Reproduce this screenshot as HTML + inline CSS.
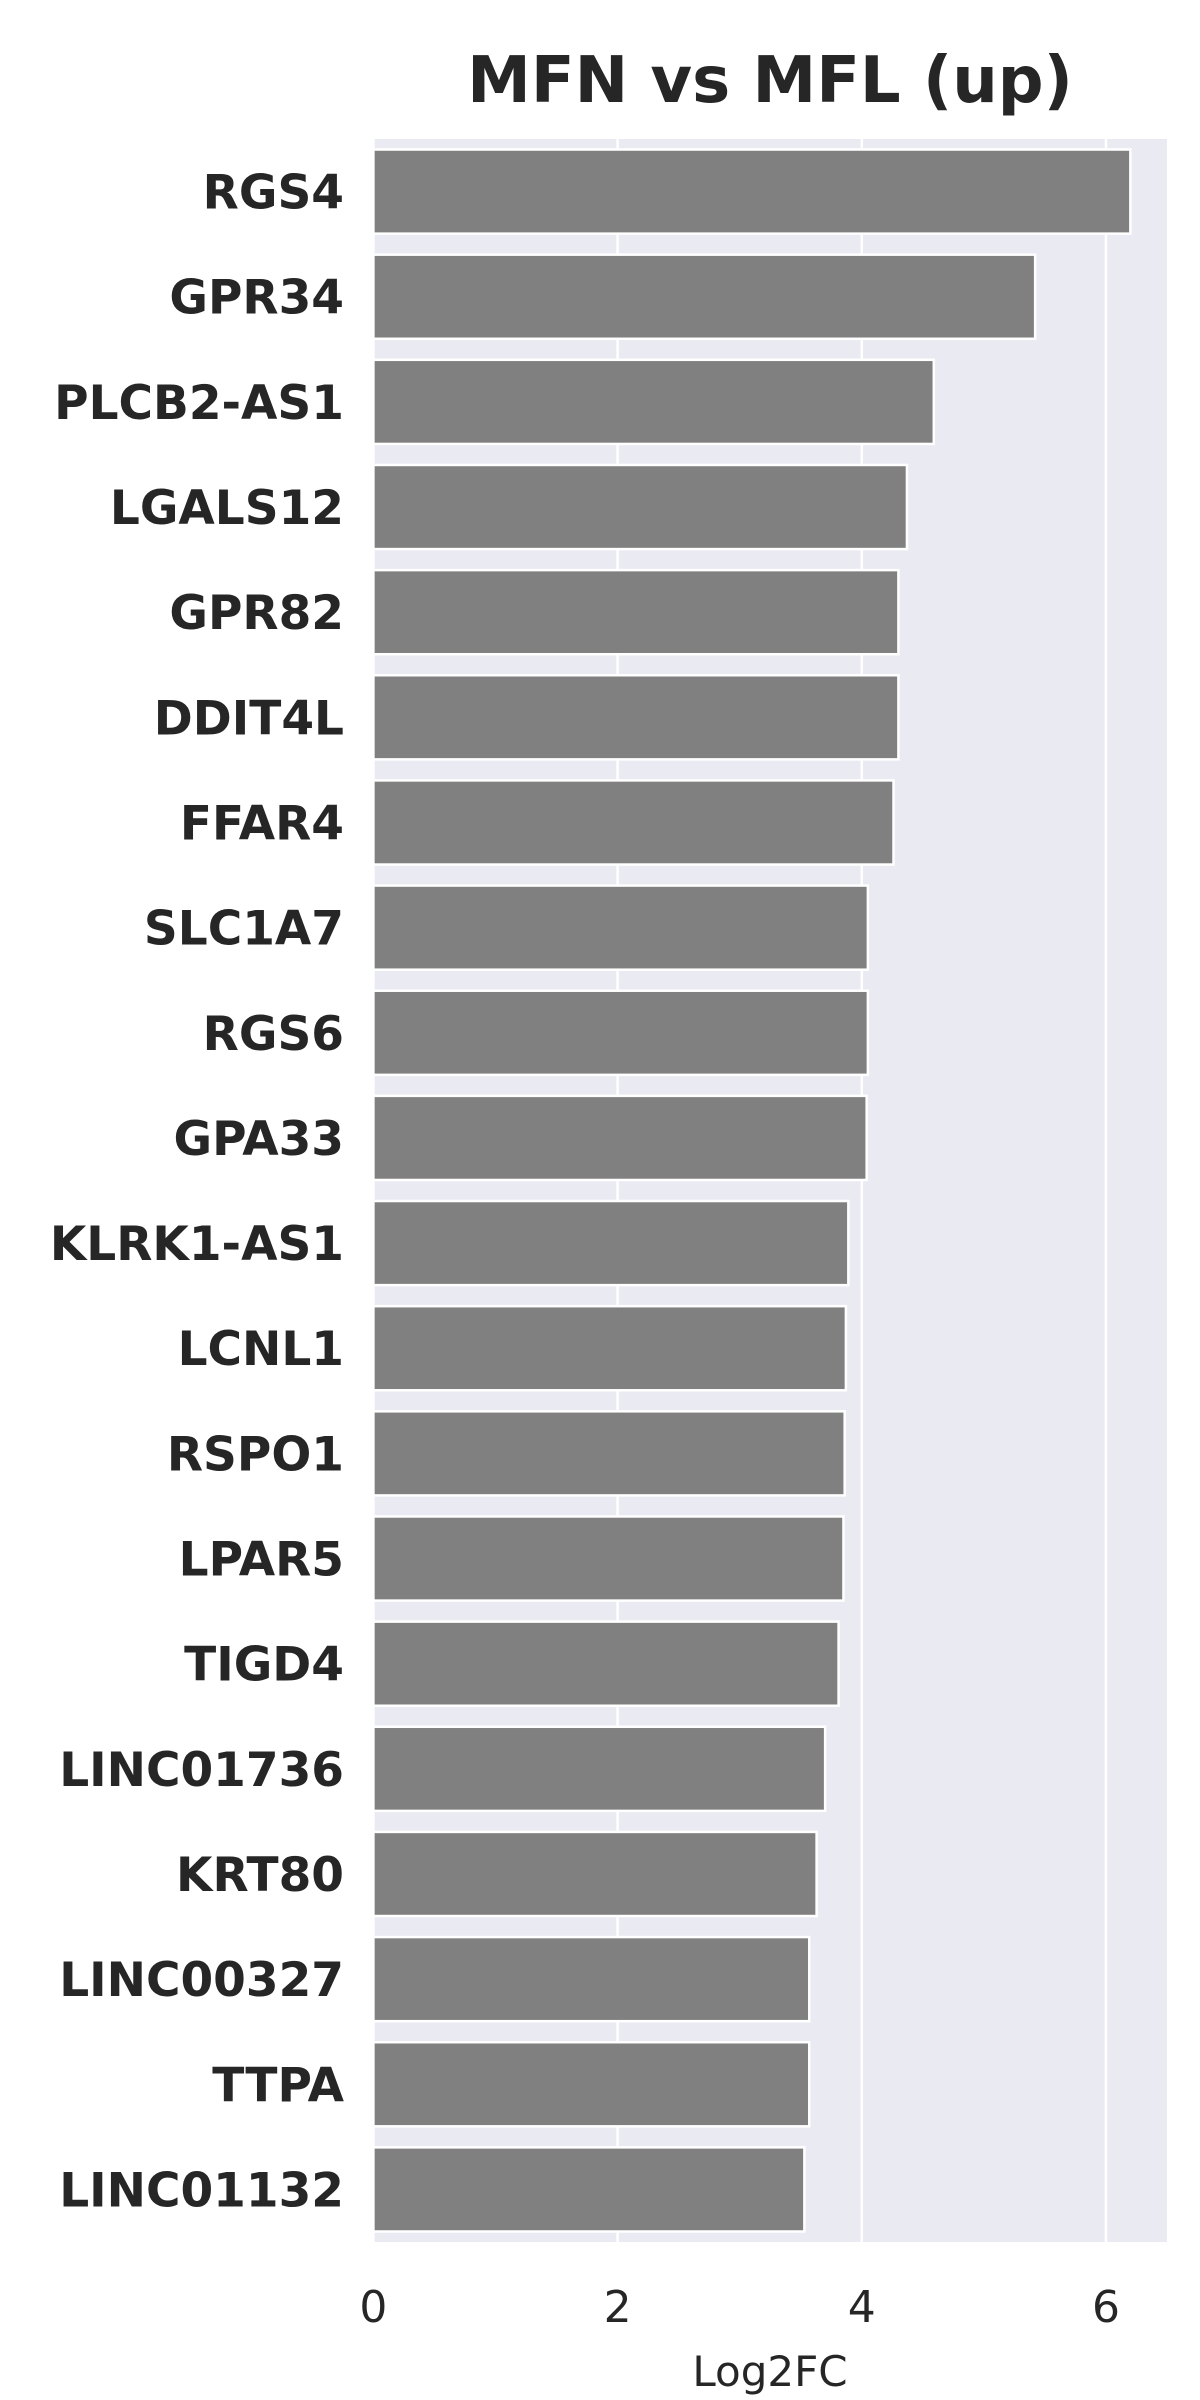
<!DOCTYPE html>
<html><head><meta charset="utf-8"><style>
html,body{margin:0;padding:0;background:#fff;}
svg{display:block;font-family:"DejaVu Sans","Liberation Sans",sans-serif;}
</style></head><body>
<svg id="chart" width="1200" height="2400" viewBox="0 0 1200 2400" xmlns="http://www.w3.org/2000/svg"></svg>
<script>
const genes = ["RGS4","GPR34","PLCB2-AS1","LGALS12","GPR82","DDIT4L","FFAR4","SLC1A7","RGS6","GPA33","KLRK1-AS1","LCNL1","RSPO1","LPAR5","TIGD4","LINC01736","KRT80","LINC00327","TTPA","LINC01132"];
const log2fc = [6.2,5.42,4.59,4.37,4.30,4.30,4.26,4.05,4.05,4.04,3.89,3.87,3.86,3.85,3.81,3.70,3.63,3.57,3.57,3.53];
const xTicks = [0,2,4,6];
const title = "MFN vs MFL (up)";
const xLabel = "Log2FC";

const NS="http://www.w3.org/2000/svg";
const svg=document.getElementById('chart');
const L=373.4,R=1167,T=139,B=2242,xMax=6.5;
const xs=v=>L+v/xMax*(R-L);
const band=(B-T)/genes.length;
const ys=i=>T+i*band;
function mk(tag,attrs,parent){const e=document.createElementNS(NS,tag);for(const k in attrs)e.setAttribute(k,attrs[k]);(parent||svg).appendChild(e);return e;}

const bg=mk('rect',{x:L,y:T,width:R-L,height:B-T,fill:'#eaeaf2'});



xTicks.forEach(t=>{
  const g=mk('line',{x1:xs(t),x2:xs(t),y1:T,y2:B,stroke:'#fff','stroke-width':2.5});
  
  
  const tl=mk('text',{x:xs(t),y:2322,'text-anchor':'middle','font-size':44,fill:'#262626'});
  tl.textContent=t;
  
  
});

genes.forEach((g,i)=>{
  const y=ys(i)+band*0.1,h=band*0.8;
  const b=mk('rect',{x:xs(0),y:y,width:xs(log2fc[i])-xs(0),height:h,fill:'#808080',stroke:'#fff','stroke-width':2.5});
  
  
  const t=mk('text',{x:344,y:ys(i)+band/2+17,'text-anchor':'end','font-size':47,'font-weight':'bold',fill:'#262626'});
  t.textContent=g;
  
  
});

const tt=mk('text',{x:770,y:102,'text-anchor':'middle','font-size':64,'font-weight':'bold',fill:'#262626'});
tt.textContent=title;



const xl=mk('text',{x:770,y:2386,'text-anchor':'middle','font-size':42,fill:'#262626'});
xl.textContent=xLabel;


</script>
</body></html>
